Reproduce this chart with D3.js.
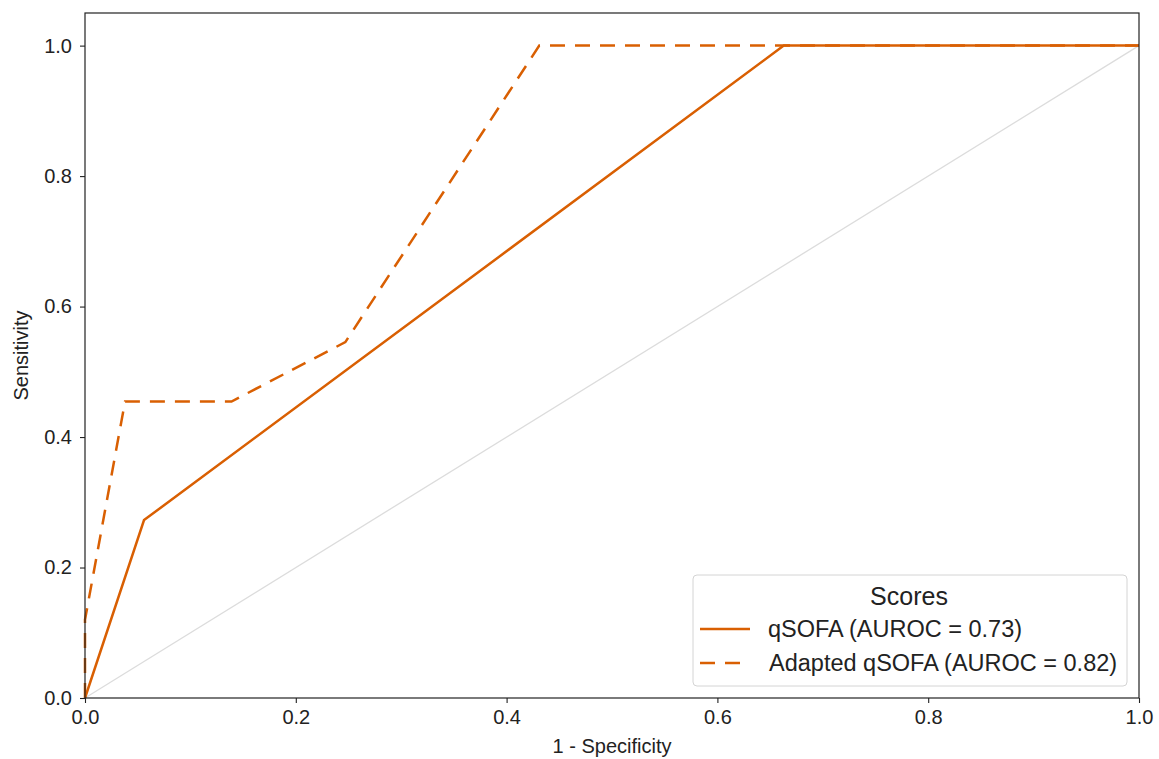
<!DOCTYPE html>
<html>
<head>
<meta charset="utf-8">
<script src="https://cdn.jsdelivr.net/npm/d3@7"></script>
<style>
  html, body { margin: 0; padding: 0; background: #fff; }
  svg { display: block; font-family: "Liberation Sans", Arial, sans-serif; }
</style>
</head>
<body>
<svg id="chart" width="1159" height="759"></svg>
<script>
// ROC curve points (1 - specificity, sensitivity)
const qsofaFpr = [0, 0.056, 0.663, 1];
const qsofaTpr = [0, 0.2727, 1, 1];
const adaptedFpr = [0, 0, 0.038, 0.139, 0.247, 0.431, 1];
const adaptedTpr = [0, 0.12, 0.4545, 0.4545, 0.5455, 1, 1];

const seriesNames = ["qSOFA (AUROC = 0.73)", "Adapted qSOFA (AUROC = 0.82)"];
const xTicks = [0, 0.2, 0.4, 0.6, 0.8, 1.0];
const yTicks = [0, 0.2, 0.4, 0.6, 0.8, 1.0];

const color = "#d95f02";
const textColor = "#222";

const svg = d3.select("#chart");
const margin = { left: 85, right: 20, top: 13, bottom: 61 };
const W = 1159, H = 759;

const x = d3.scaleLinear().domain([0, 1]).range([margin.left, W - margin.right]);
const y = d3.scaleLinear().domain([0, 1.05]).range([H - margin.bottom, margin.top]);

const line = d3.line().x(d => x(d[0])).y(d => y(d[1]));

// chance diagonal
svg.append("path")
  .attr("d", line([[0, 0], [1, 1]]))
  .attr("fill", "none")
  .attr("stroke", "#dcdcdc")
  .attr("stroke-width", 1.3);

// qSOFA
svg.append("path")
  .attr("d", line(qsofaFpr.map((v, i) => [v, qsofaTpr[i]])))
  .attr("fill", "none")
  .attr("stroke", color)
  .attr("stroke-width", 2.5);

// Adapted qSOFA
svg.append("path")
  .attr("d", line(adaptedFpr.map((v, i) => [v, adaptedTpr[i]])))
  .attr("fill", "none")
  .attr("stroke", color)
  .attr("stroke-width", 2.5)
  .attr("stroke-dasharray", "15,10");

// frame
svg.append("rect")
  .attr("x", x(0)).attr("y", y(1.05))
  .attr("width", x(1) - x(0)).attr("height", y(0) - y(1.05))
  .attr("fill", "none").attr("stroke", textColor).attr("stroke-width", 1.2);

// axes
const xAxis = svg.append("g")
  .attr("transform", `translate(0,${y(0)})`)
  .call(d3.axisBottom(x).tickValues(xTicks).tickFormat(d3.format(".1f")).tickSize(5).tickSizeOuter(0));
const yAxis = svg.append("g")
  .attr("transform", `translate(${x(0)},0)`)
  .call(d3.axisLeft(y).tickValues(yTicks).tickFormat(d3.format(".1f")).tickSize(5).tickSizeOuter(0));

[xAxis, yAxis].forEach(g => {
  g.select(".domain").remove();
  g.selectAll(".tick line").attr("stroke", textColor).attr("stroke-width", 1.1);
  g.selectAll(".tick text")
    .attr("fill", textColor)
    .style("font-size", "20px")
    .style("font-family", "Liberation Sans, Arial, sans-serif");
});
xAxis.selectAll(".tick text").attr("y", 12).attr("dy", "0.71em");
yAxis.selectAll(".tick text").attr("x", -13);

// axis titles
svg.append("text")
  .attr("x", (x(0) + x(1)) / 2).attr("y", 753)
  .attr("text-anchor", "middle")
  .attr("fill", textColor)
  .style("font-size", "20px")
  .text("1 - Specificity");

svg.append("text")
  .attr("transform", `translate(28,${(y(0) + y(1.05)) / 2}) rotate(-90)`)
  .attr("text-anchor", "middle")
  .attr("fill", textColor)
  .style("font-size", "20px")
  .text("Sensitivity");

// legend
const lg = svg.append("g").attr("transform", "translate(693,575)");
lg.append("rect")
  .attr("width", 434).attr("height", 111)
  .attr("rx", 4).attr("ry", 4)
  .attr("fill", "#fff").attr("fill-opacity", 0.85)
  .attr("stroke", "#d4d4d4").attr("stroke-width", 1);
lg.append("text")
  .attr("x", 216).attr("y", 30)
  .attr("text-anchor", "middle")
  .attr("fill", textColor)
  .style("font-size", "25px")
  .text("Scores");

const entries = [
  { name: seriesNames[0], dash: null, ty: 54, tx: 75 },
  { name: seriesNames[1], dash: "15,10", ty: 88, tx: 76 }
];
entries.forEach(e => {
  lg.append("line")
    .attr("x1", 7).attr("x2", 57)
    .attr("y1", e.ty).attr("y2", e.ty)
    .attr("stroke", color).attr("stroke-width", 2.5)
    .attr("stroke-dasharray", e.dash);
  lg.append("text")
    .attr("x", e.tx).attr("y", e.ty + 8)
    .attr("fill", textColor)
    .style("font-size", "23.5px")
    .text(e.name);
});
</script>
</body>
</html>
